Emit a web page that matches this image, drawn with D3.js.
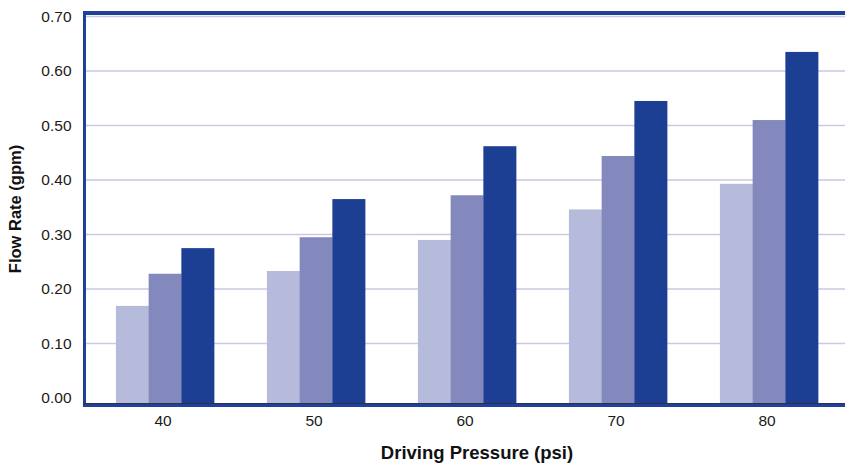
<!DOCTYPE html>
<html>
<head>
<meta charset="utf-8">
<script src="https://cdn.jsdelivr.net/npm/d3@7"></script>
<style>
  body { margin: 0; background: #fff; }
  text { font-family: "Liberation Sans", Arial, sans-serif; }
</style>
</head>
<body>
<div class="chart"></div>
<script>
// chart data
var pressures = ["40", "50", "60", "70", "80"];
var seriesNames = ["s1", "s2", "s3"];
var series1 = [0.169, 0.233, 0.290, 0.346, 0.393];
var series2 = [0.228, 0.295, 0.372, 0.444, 0.510];
var series3 = [0.275, 0.365, 0.462, 0.545, 0.635];
var yTicks = [0, 0.1, 0.2, 0.3, 0.4, 0.5, 0.6, 0.7];

var colors = ["#b7bbdb", "#8388bd", "#1c3f94"];
var frameColor = "#1f4197";

var svgWidth = 845, svgHeight = 466;

var svg = d3.select(".chart")
  .append("svg")
  .attr("width", svgWidth)
  .attr("height", svgHeight);

// scales
var yScale = d3.scaleLinear()
  .domain([0, 0.7])
  .range([398, 16.5]);

var xScale = d3.scaleBand()
  .domain(pressures)
  .range([89.5, 844.5])
  .paddingInner(0.35)
  .paddingOuter(0.175);

var xSub = d3.scaleBand()
  .domain(seriesNames)
  .range([0, xScale.bandwidth()]);

var baseY = 404;

// gridlines
svg.append("g")
  .selectAll("line")
  .data(yTicks.slice(1))
  .enter()
  .append("line")
  .attr("x1", 86)
  .attr("x2", svgWidth)
  .attr("y1", d => yScale(d))
  .attr("y2", d => yScale(d))
  .attr("stroke", "#c9c9e2")
  .attr("stroke-width", 1.5);

// y axis labels
var yAxis = d3.axisLeft(yScale)
  .tickValues(yTicks)
  .tickFormat(d3.format(".2f"))
  .tickSize(0)
  .tickPadding(0);

var yG = svg.append("g")
  .attr("transform", "translate(71.5,0)")
  .call(yAxis);
yG.select(".domain").remove();
yG.selectAll("text")
  .attr("font-size", "15.5px")
  .attr("fill", "#1a1a1a")
  .attr("font-family", "Liberation Sans, Arial, sans-serif");

// bars
var rows = pressures.map(function(p, i) {
  return { p: p, vals: [series1[i], series2[i], series3[i]] };
});

var groups = svg.selectAll(".grp")
  .data(rows)
  .enter()
  .append("g")
  .attr("class", "grp")
  .attr("transform", d => `translate(${xScale(d.p)},0)`);

groups.selectAll("rect")
  .data(d => d.vals.map((v, j) => ({ key: seriesNames[j], v: v, j: j })))
  .enter()
  .append("rect")
  .attr("x", d => xSub(d.key))
  .attr("width", xSub.bandwidth() + 0.3)
  .attr("y", d => yScale(d.v))
  .attr("height", d => baseY - yScale(d.v))
  .attr("fill", d => colors[d.j]);

// frame
svg.append("line")
  .attr("x1", 84.5).attr("x2", 84.5)
  .attr("y1", 11).attr("y2", 407)
  .attr("stroke", frameColor).attr("stroke-width", 3);
svg.append("line")
  .attr("x1", 83).attr("x2", svgWidth)
  .attr("y1", 13).attr("y2", 13)
  .attr("stroke", frameColor).attr("stroke-width", 4);
svg.append("line")
  .attr("x1", 83).attr("x2", svgWidth)
  .attr("y1", 403.5).attr("y2", 403.5)
  .attr("stroke", "#2a2f55").attr("stroke-width", 1);
svg.append("line")
  .attr("x1", 83).attr("x2", svgWidth)
  .attr("y1", 405.5).attr("y2", 405.5)
  .attr("stroke", frameColor).attr("stroke-width", 3);

// x axis labels
var xAxis = d3.axisBottom(xScale).tickSize(0).tickPadding(0);
var xG = svg.append("g")
  .attr("transform", "translate(-2,415)")
  .call(xAxis);
xG.select(".domain").remove();
xG.selectAll("text")
  .attr("font-size", "15.5px")
  .attr("fill", "#1a1a1a")
  .attr("font-family", "Liberation Sans, Arial, sans-serif");

// axis titles
svg.append("text")
  .attr("x", 477)
  .attr("y", 459)
  .attr("text-anchor", "middle")
  .attr("font-size", "18.5px")
  .attr("font-weight", "bold")
  .attr("fill", "#111")
  .text("Driving Pressure (psi)");

svg.append("text")
  .attr("transform", "translate(21,209) rotate(-90)")
  .attr("text-anchor", "middle")
  .attr("font-size", "16.5px")
  .attr("font-weight", "bold")
  .attr("fill", "#111")
  .text("Flow Rate (gpm)");
</script>
</body>
</html>
